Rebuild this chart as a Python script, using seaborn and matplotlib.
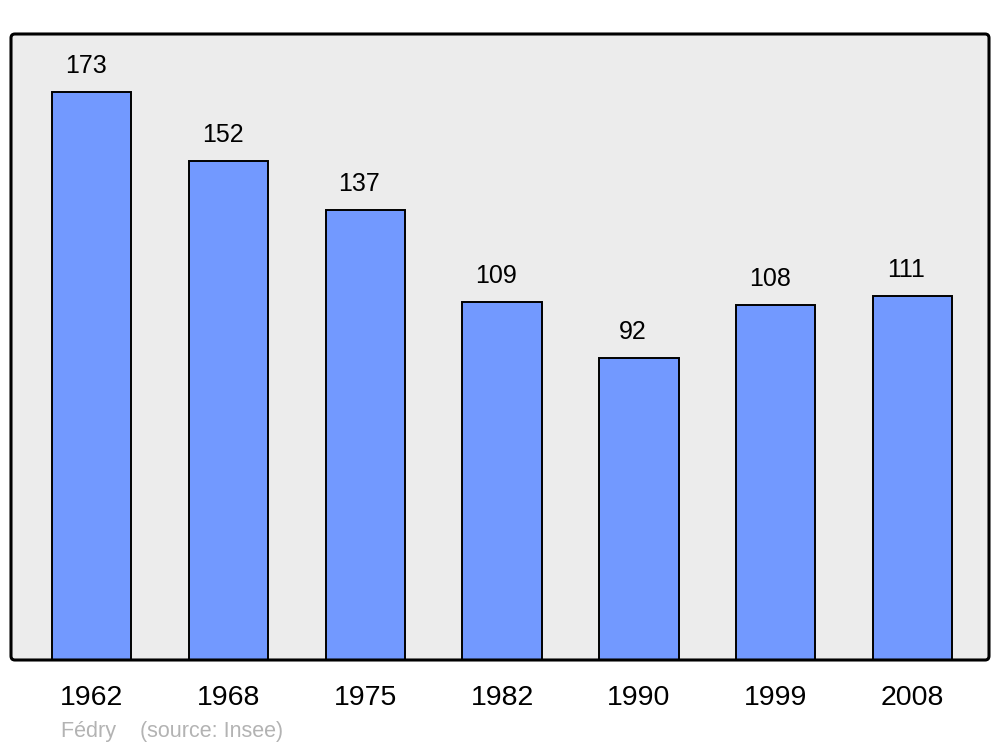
import pandas as pd
import matplotlib.pyplot as plt
import seaborn as sns
from matplotlib.patches import FancyBboxPatch

# Data
annees = ["1962", "1968", "1975", "1982", "1990", "1999", "2008"]
population = [173, 152, 137, 109, 92, 108, 111]

df = pd.DataFrame({"Année": annees, "Population": population})

sns.set_style("white")
plt.rcParams['font.family'] = ['Liberation Sans', 'DejaVu Sans']

fig = plt.figure(figsize=(10, 7.47), dpi=100)
ax = fig.add_axes([0.011, 1 - 660 / 747, 0.978, (660 - 34) / 747])
ax.set_facecolor("#ececec")

sns.barplot(data=df, x="Année", y="Population", color="#7299ff", saturation=1,
            edgecolor="black", linewidth=1.4, width=0.58, ax=ax)

# Valeurs au-dessus des barres
for i, v in enumerate(population):
    ax.text(i - 0.044, v + 4.3, str(v), ha="center", va="bottom", fontsize=18,
            color="black")

ax.set_xlim(-0.59, 6.56)
ax.set_ylim(0, 190.7)
ax.set_yticks([])
ax.set_xlabel("")
ax.set_ylabel("")
ax.tick_params(axis="x", length=0, pad=18, labelsize=20.5, labelcolor="black")

# cadre aux coins arrondis
for s in ax.spines.values():
    s.set_visible(False)
cadre = FancyBboxPatch((0, 0), 1, 1, boxstyle="round,pad=0,rounding_size=0.004",
                       mutation_aspect=1.6, transform=ax.transAxes,
                       facecolor="none", edgecolor="black", linewidth=2.2,
                       clip_on=False, zorder=5)
ax.add_patch(cadre)

fig.text(0.061, 1 - 731 / 747, "Fédry    (source: Insee)", color="#b3b3b3",
         fontsize=15.5, va="center", ha="left")

fig.savefig("out.png", dpi=100)
